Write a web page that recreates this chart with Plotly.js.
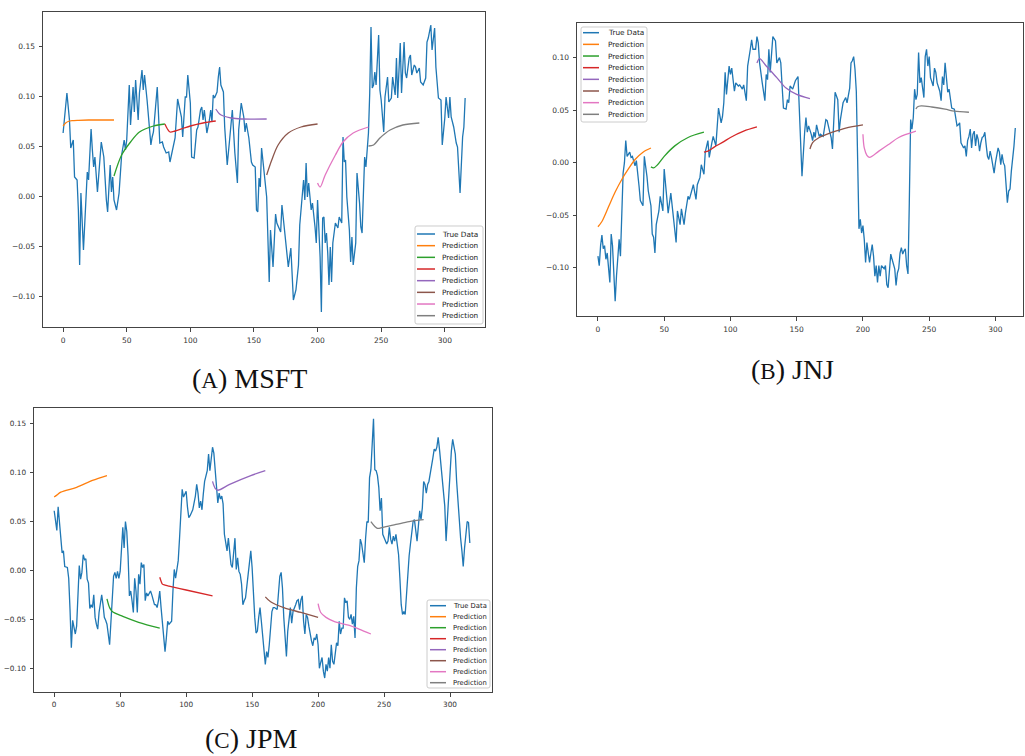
<!DOCTYPE html>
<html>
<head>
<meta charset="utf-8">
<script src="https://cdn.plot.ly/plotly-3.0.1.min.js"></script>
<style>html,body{margin:0;padding:0;background:#fff;}</style>
</head>
<body>
<div id="chart" style="width:1025px;height:756px;"></div>
<script>
// ---------------- DATA ----------------
// (A) MSFT true data
const msftX = [0,3,5,6,8,9,11,12,13,14,16,17,19,20,22,23,24,25,27,30,32,34,35,37,38,39,40,42,44,46,48,49,50,52,53,55,56,57,59,60,62,63,64,66,67,69,70,71,74,75,76,78,79,81,83,84,86,88,90,92,93,94,96,97,98,100,101,103,105,106,108,109,110,111,113,115,116,117,118,119,121,122,123,124,126,127,129,131,133,135,137,138,140,142,143,144,146,148,149,151,152,153,154,155,156,157,159,160,162,163,165,167,168,171,172,173,175,176,177,179,181,183,185,186,188,189,190,191,192,193,195,196,198,199,200,202,203,204,205,206,207,208,209,210,211,212,214,216,217,219,220,221,222,223,225,226,227,228,230,231,233,234,235,236,237,238,240,241,242,243,244,245,246,248,249,250,252,253,255,256,258,259,261,262,263,265,266,268,269,270,272,273,274,276,277,278,280,281,283,285,286,287,289,290,292,293,295,297,298,300,301,303,304,305,307,309,310,312,314,315,316];
const msftY = [0.063,0.103,0.076,0.048,0.056,0.019,0.016,-0.014,-0.069,0.003,-0.054,-0.029,0.024,0.016,0.067,0.046,0.029,0.039,0.004,0.054,0.039,-0.004,-0.016,0.031,0.004,0.019,-0.004,-0.014,0.003,0.041,0.056,0.046,0.056,0.111,0.071,0.109,0.084,0.116,0.076,0.103,0.126,0.106,0.121,0.096,0.083,0.051,0.059,0.064,0.109,0.073,0.053,0.054,0.049,0.043,0.044,0.034,0.048,0.058,0.097,0.086,0.079,0.059,0.099,0.099,0.121,0.093,0.039,0.038,0.066,0.069,0.086,0.089,0.076,0.086,0.063,0.076,0.086,0.074,0.101,0.098,0.104,0.119,0.129,0.111,0.104,0.069,0.031,0.058,0.086,0.043,0.013,0.066,0.093,0.079,0.064,0.073,0.058,0.034,0.031,0.029,-0.014,-0.016,0.018,0.009,0.048,0.036,0.008,-0.001,-0.086,-0.034,-0.071,-0.018,-0.027,-0.036,-0.009,-0.021,-0.044,-0.056,-0.071,-0.052,-0.104,-0.094,-0.069,-0.029,-0.001,0.016,-0.004,0.033,-0.001,0.013,-0.014,-0.007,-0.031,-0.047,-0.004,-0.061,-0.116,-0.022,-0.021,-0.047,-0.037,-0.057,-0.089,-0.051,-0.086,-0.047,-0.027,-0.032,-0.021,-0.027,0.059,0.034,0.036,-0.001,-0.034,-0.066,-0.041,-0.069,-0.047,0.023,-0.007,-0.031,-0.037,0.009,0.039,0.029,0.063,0.103,0.169,0.108,0.111,0.124,0.111,0.161,0.106,0.096,0.064,0.099,0.119,0.094,0.098,0.119,0.101,0.138,0.098,0.153,0.103,0.154,0.123,0.118,0.138,0.141,0.121,0.131,0.129,0.123,0.128,0.114,0.111,0.118,0.154,0.158,0.171,0.146,0.168,0.129,0.098,0.096,0.051,0.078,0.099,0.078,0.099,0.079,0.069,0.053,0.049,0.003,0.059,0.069,0.098];
// (A) MSFT predictions (7 windows of 40 steps)
const msftPredX = [
  [0,2,4,7,12,20,30,40],
  [40,46,53,60,71,80],
  [80,82,84,88,95,100,110,120],
  [120,123,126,132,140,160],
  [160,164,169,177,187,200],
  [200,202,206,214,220,228,240],
  [240,244,249,257,267,280]
];
const msftPredY = [
  [0.070,0.073,0.0745,0.0753,0.0757,0.076,0.076,0.076],
  [0.020,0.041,0.054,0.064,0.070,0.072],
  [0.072,0.067,0.064,0.065,0.068,0.070,0.073,0.075],
  [0.087,0.082,0.080,0.078,0.077,0.077],
  [0.021,0.036,0.051,0.063,0.069,0.072],
  [0.013,0.009,0.021,0.041,0.054,0.063,0.069],
  [0.050,0.051,0.058,0.066,0.071,0.073]
];

// (B) JNJ true data
const jnjX = [0,1,2,3,4,5,6,7,9,10,11,13,14,16,17,19,20,21,22,24,25,26,28,29,31,32,34,35,37,38,40,41,42,43,44,46,47,49,50,52,53,55,56,58,59,60,62,63,65,66,68,69,71,72,74,75,77,78,80,81,83,84,86,87,89,90,91,93,94,95,96,97,99,100,101,103,104,106,107,109,110,112,113,115,116,117,119,120,121,122,123,124,126,127,128,129,130,131,132,134,135,137,138,139,140,142,143,144,145,147,149,151,152,153,154,156,157,158,159,161,162,163,164,165,167,168,170,172,173,175,176,177,178,179,181,182,183,184,185,187,188,190,191,192,193,194,195,196,197,198,199,200,201,202,203,204,205,206,207,208,209,210,211,212,213,214,216,217,218,219,220,221,222,224,225,226,227,228,229,230,231,232,233,234,235,236,237,238,239,240,241,242,243,244,246,247,248,249,250,251,253,254,255,256,258,259,260,261,262,263,264,265,266,267,269,270,271,272,273,274,276,277,278,279,280,281,282,283,284,285,286,287,288,289,290,291,292,293,294,295,296,297,298,299,300,301,302,303,304,305,306,307,308,309,310,311,312,313,314,315];
const jnjY = [-0.089,-0.098,-0.079,-0.069,-0.082,-0.079,-0.092,-0.086,-0.114,-0.068,-0.079,-0.132,-0.108,-0.073,-0.089,-0.010,0.000,0.021,0.006,0.010,0.005,0.006,-0.003,0.002,-0.022,-0.036,-0.041,0.006,-0.013,-0.027,-0.041,-0.068,-0.071,-0.086,-0.059,-0.046,-0.032,-0.046,-0.006,-0.038,-0.048,-0.029,-0.040,-0.063,-0.076,-0.046,-0.059,-0.044,-0.059,-0.048,-0.032,-0.035,-0.027,-0.021,-0.035,-0.021,-0.014,-0.002,-0.011,0.010,0.021,0.005,0.019,0.025,0.016,0.032,0.052,0.038,0.044,0.057,0.086,0.065,0.092,0.084,0.090,0.068,0.076,0.073,0.074,0.070,0.074,0.059,0.092,0.108,0.117,0.108,0.108,0.120,0.114,0.095,0.084,0.076,0.059,0.084,0.079,0.108,0.086,0.103,0.120,0.116,0.095,0.100,0.095,0.073,0.052,0.051,0.060,0.057,0.073,0.070,0.078,0.082,0.051,0.011,-0.013,0.029,0.043,0.029,0.035,0.027,0.021,0.029,0.024,0.036,0.025,0.027,0.025,0.041,0.040,0.029,0.024,0.013,0.036,0.067,0.060,0.029,0.041,0.049,0.057,0.062,0.057,0.071,0.095,0.097,0.101,0.089,0.068,0.003,-0.063,-0.054,-0.067,-0.060,-0.073,-0.095,-0.076,-0.086,-0.095,-0.086,-0.078,-0.089,-0.108,-0.098,-0.114,-0.098,-0.108,-0.098,-0.101,-0.098,-0.116,-0.119,-0.105,-0.087,-0.092,-0.101,-0.117,-0.105,-0.101,-0.086,-0.081,-0.087,-0.084,-0.082,-0.098,-0.106,-0.038,0.041,0.032,0.043,0.070,0.060,0.065,0.105,0.076,0.081,0.062,0.101,0.108,0.092,0.101,0.081,0.073,0.090,0.086,0.076,0.068,0.059,0.082,0.074,0.095,0.078,0.067,0.070,0.059,0.052,0.051,0.041,0.035,0.036,0.038,0.019,0.014,0.016,0.006,0.021,0.025,0.032,0.014,0.027,0.030,0.016,0.027,0.022,0.011,0.019,0.024,0.025,0.029,0.017,0.006,0.003,0.011,0.005,-0.003,-0.010,0.000,0.008,0.014,0.010,-0.002,0.008,0.000,-0.003,-0.019,-0.038,-0.027,-0.025,-0.008,0.003,0.016,0.033];
// (B) JNJ predictions
const jnjPredX = [
  [0,3,8,13,18,23,28,34,40],
  [40,42,45,50,58,68,80],
  [80,83,88,95,100,110,120],
  [120,122,127,135,142,150,160],
  [160,162,167,177,187,200],
  [200,201,203,205,212,219,227,240],
  [240,241,244,252,262,269,280]
];
const jnjPredY = [
  [-0.061,-0.056,-0.042,-0.028,-0.016,-0.006,0.003,0.010,0.014],
  [-0.004,-0.005,-0.002,0.006,0.016,0.024,0.029],
  [0.010,0.011,0.015,0.020,0.024,0.030,0.034],
  [0.095,0.099,0.092,0.081,0.071,0.065,0.061],
  [0.013,0.019,0.024,0.029,0.033,0.036],
  [0.027,0.014,0.007,0.005,0.011,0.017,0.024,0.030],
  [0.051,0.053,0.054,0.053,0.051,0.049,0.048]
];

// (C) JPM true data
const jpmX = [0,1,2,3,4,5,6,7,8,10,11,12,13,14,16,17,18,19,20,21,22,23,24,25,26,27,28,29,30,31,32,33,34,35,36,37,38,39,40,42,43,44,45,46,47,48,49,50,51,52,53,54,55,56,57,58,59,60,61,62,63,64,65,66,67,68,69,70,71,72,73,74,76,77,78,79,80,81,82,83,84,85,86,87,89,90,91,92,93,94,95,96,97,98,99,100,101,102,103,105,107,108,109,110,111,112,113,114,116,117,118,119,120,121,122,123,124,125,126,127,128,129,130,131,132,133,134,135,136,137,138,139,140,141,142,143,144,145,146,147,148,149,150,151,152,153,154,155,156,157,158,159,160,161,162,163,164,165,166,167,169,170,171,172,173,174,175,176,177,178,179,180,181,183,184,185,186,187,188,189,190,191,192,193,194,195,196,197,198,199,200,201,202,203,204,205,206,207,208,209,210,211,212,213,214,215,216,217,218,219,220,221,222,223,224,225,226,227,228,229,230,231,232,233,234,235,236,237,238,239,240,241,242,243,244,245,246,247,248,249,250,251,252,253,254,255,256,257,258,259,260,261,262,263,264,265,266,267,268,269,270,271,272,273,274,275,276,277,278,279,280,281,282,283,284,285,286,287,288,289,290,291,292,293,294,295,296,297,298,299,300,301,302,303,304,305,306,307,308,309,310,311,312,313,314,315];
const jpmY = [0.061,0.052,0.041,0.065,0.049,0.039,0.018,0.020,0.004,0.003,-0.008,-0.040,-0.079,-0.051,-0.065,-0.057,-0.031,0.005,-0.009,-0.002,0.016,0.011,0.012,-0.009,-0.013,-0.039,-0.035,-0.038,-0.025,-0.048,-0.055,-0.060,-0.043,-0.033,-0.025,-0.035,-0.048,-0.051,-0.055,-0.076,-0.052,-0.025,-0.006,-0.002,-0.008,-0.001,-0.008,-0.001,0.025,0.044,0.023,0.050,0.040,0.015,-0.026,-0.021,-0.031,-0.043,-0.008,-0.021,-0.043,-0.004,-0.014,0.008,0.003,0.006,-0.031,-0.023,-0.026,-0.023,-0.021,-0.025,-0.035,-0.035,-0.038,-0.031,-0.021,-0.038,-0.052,-0.065,-0.083,-0.069,-0.052,-0.055,-0.052,-0.021,0.001,-0.008,-0.001,0.010,0.033,0.059,0.083,0.075,0.078,0.081,0.065,0.054,0.056,0.062,0.076,0.088,0.079,0.064,0.071,0.062,0.078,0.091,0.102,0.119,0.102,0.112,0.126,0.120,0.102,0.083,0.069,0.079,0.073,0.076,0.068,0.037,0.030,0.020,0.033,0.015,0.006,0.003,0.020,0.033,0.001,0.013,-0.001,-0.004,-0.014,-0.035,-0.031,-0.028,-0.016,-0.004,0.006,0.020,0.003,-0.028,-0.048,-0.064,-0.062,-0.048,-0.038,-0.052,-0.065,-0.083,-0.096,-0.083,-0.089,-0.076,-0.055,-0.042,-0.038,-0.038,-0.040,-0.021,-0.006,-0.002,-0.018,-0.048,-0.069,-0.088,-0.062,-0.048,-0.038,-0.054,-0.042,-0.035,-0.031,-0.030,-0.040,-0.030,-0.026,-0.052,-0.065,-0.045,-0.048,-0.057,-0.067,-0.072,-0.077,-0.069,-0.071,-0.065,-0.076,-0.100,-0.094,-0.089,-0.103,-0.110,-0.096,-0.103,-0.089,-0.100,-0.076,-0.093,-0.096,-0.086,-0.074,-0.077,-0.052,-0.065,-0.059,-0.059,-0.028,-0.033,-0.031,-0.048,-0.050,-0.045,-0.055,-0.047,-0.069,-0.018,0.004,0.010,0.032,0.027,0.018,0.008,0.033,0.050,0.049,0.095,0.103,0.132,0.155,0.103,0.102,0.097,0.085,0.061,0.074,0.037,0.033,0.030,0.027,0.030,0.044,0.032,0.027,0.035,0.030,0.037,0.027,0.016,-0.008,-0.035,-0.045,-0.042,-0.045,-0.026,0.003,0.015,0.027,0.040,0.050,0.052,0.039,0.030,0.045,0.061,0.052,0.064,0.091,0.088,0.079,0.088,0.091,0.098,0.105,0.115,0.124,0.122,0.126,0.136,0.124,0.108,0.095,0.081,0.066,0.030,0.054,0.078,0.102,0.122,0.134,0.127,0.119,0.091,0.068,0.044,0.033,0.020,0.004,0.023,0.035,0.050,0.049,0.028];
// (C) JPM predictions
const jpmPredX = [
  [0,2,5,17,29,40],
  [40,42,44,52,64,80],
  [80,81,82,84,87,100,120],
  [120,122,124,133,149,160],
  [160,164,174,187,200],
  [200,202,206,212,223,231,240],
  [240,243,245,249,259,269,280]
];
const jpmPredY = [
  [0.075,0.077,0.080,0.085,0.092,0.097],
  [-0.029,-0.038,-0.042,-0.047,-0.053,-0.059],
  [-0.007,-0.011,-0.014,-0.015,-0.016,-0.020,-0.026],
  [0.091,0.084,0.082,0.088,0.097,0.102],
  [-0.027,-0.032,-0.038,-0.043,-0.048],
  [-0.034,-0.043,-0.048,-0.052,-0.056,-0.060,-0.065],
  [0.050,0.045,0.043,0.044,0.047,0.050,0.052]
];

const legendLabels = ['True Data','Prediction','Prediction','Prediction','Prediction','Prediction','Prediction','Prediction'];
const captions = [['A','MSFT'],['B','JNJ'],['C','JPM']];
const colors = ['#1f77b4','#ff7f0e','#2ca02c','#d62728','#9467bd','#8c564b','#e377c2','#7f7f7f'];

// ---------------- LAYOUT ----------------
const W = 1025, H = 756;
const px = x => x / W;
const py = y => 1 - y / H;

const panels = [
  {tx: msftX, ty: msftY, pX: msftPredX, pY: msftPredY,
   box: [43, 12, 485, 327], xr: [-15.8, 331.6], yr: [-0.131, 0.184], tickSize: 7.5,
   leg: {box: [415, 226, 483, 324], line: [417, 435], text: 440, y0: 234, dy: 11.67, size: 7.3},
   cap: {x: 249, y: 379}},
  {tx: jnjX, ty: jnjY, pX: jnjPredX, pY: jnjPredY,
   box: [577, 23, 1023, 316], xr: [-15.8, 320.8], yr: [-0.146, 0.133], tickSize: 7.5,
   leg: {box: [581, 27, 647, 122], line: [583, 599], text: 606, y0: 32.7, dy: 11.66, size: 7.3},
   cap: {x: 792, y: 369}},
  {tx: jpmX, ty: jpmY, pX: jpmPredX, pY: jpmPredY,
   box: [34, 408, 492, 692], xr: [-15.3, 331.8], yr: [-0.1243, 0.1661], tickSize: 7.3,
   leg: {box: [427, 600, 490, 688], line: [430, 446], text: 451, y0: 605.7, dy: 11, size: 6.8},
   cap: {x: 251, y: 738}}
];

const traces = [];
const layout = {
  width: W, height: H,
  margin: {l: 0, r: 0, t: 0, b: 0, pad: 0},
  paper_bgcolor: '#ffffff', plot_bgcolor: '#ffffff',
  showlegend: false,
  shapes: [], annotations: []
};

function roundRect(x0, y0, x1, y1, r) {
  const P = (x, y) => px(x).toFixed(5) + ',' + py(y).toFixed(5);
  return 'M' + P(x0 + r, y0) + ' L' + P(x1 - r, y0) + ' Q' + P(x1, y0) + ' ' + P(x1, y0 + r) +
    ' L' + P(x1, y1 - r) + ' Q' + P(x1, y1) + ' ' + P(x1 - r, y1) +
    ' L' + P(x0 + r, y1) + ' Q' + P(x0, y1) + ' ' + P(x0, y1 - r) +
    ' L' + P(x0, y0 + r) + ' Q' + P(x0, y0) + ' ' + P(x0 + r, y0) + ' Z';
}

panels.forEach((p, i) => {
  const n = i === 0 ? '' : String(i + 1);
  const xa = 'x' + n, ya = 'y' + n;
  traces.push({x: p.tx, y: p.ty, xaxis: xa, yaxis: ya, type: 'scatter', mode: 'lines',
    line: {color: colors[0], width: 1.3}, hoverinfo: 'skip'});
  p.pX.forEach((xs, k) => {
    traces.push({x: xs, y: p.pY[k], xaxis: xa, yaxis: ya, type: 'scatter', mode: 'lines',
      line: {color: colors[k + 1], width: 1.3, shape: 'spline', smoothing: 0.9}, hoverinfo: 'skip'});
  });
  const axCommon = {
    showgrid: false, zeroline: false, showline: true, mirror: true,
    linecolor: '#444', linewidth: 1, ticks: 'outside', ticklen: 3.5, tickwidth: 1, tickcolor: '#444',
    tickfont: {family: 'DejaVu Sans', size: p.tickSize, color: '#333'}, fixedrange: true
  };
  layout['xaxis' + n] = Object.assign({}, axCommon, {
    domain: [px(p.box[0]), px(p.box[2])], range: p.xr, anchor: ya,
    tick0: 0, dtick: 50, ticklabelstandoff: 2
  });
  layout['yaxis' + n] = Object.assign({}, axCommon, {
    domain: [py(p.box[3]), py(p.box[1])], range: p.yr, anchor: xa,
    tick0: 0, dtick: 0.05, tickformat: '.2f', ticklabelstandoff: 2
  });
  // legend (drawn as shapes + text)
  const L = p.leg;
  layout.shapes.push({type: 'path', xref: 'paper', yref: 'paper', path: roundRect(L.box[0], L.box[1], L.box[2], L.box[3], 2),
    fillcolor: 'rgba(255,255,255,0.85)', line: {color: '#cccccc', width: 1}, layer: 'above'});
  legendLabels.forEach((lab, k) => {
    const yc = L.y0 + k * L.dy;
    layout.shapes.push({type: 'line', xref: 'paper', yref: 'paper',
      x0: px(L.line[0]), x1: px(L.line[1]), y0: py(yc), y1: py(yc),
      line: {color: colors[k], width: 1.5}, layer: 'above'});
    layout.annotations.push({xref: 'paper', yref: 'paper', x: px(L.text), y: py(yc),
      xanchor: 'left', yanchor: 'middle', showarrow: false, text: lab,
      font: {family: 'DejaVu Sans', size: L.size, color: '#222'}});
  });
  // caption
  layout.annotations.push({xref: 'paper', yref: 'paper', x: px(p.cap.x), y: py(p.cap.y),
    xanchor: 'center', yanchor: 'middle', showarrow: false,
    text: '(<span style="font-size:23px">' + captions[i][0] + '</span>) ' + captions[i][1],
    font: {family: 'Liberation Serif', size: 28, color: '#111'}});
});

Plotly.newPlot('chart', traces, layout, {staticPlot: true, displayModeBar: false});
</script>
</body>
</html>
